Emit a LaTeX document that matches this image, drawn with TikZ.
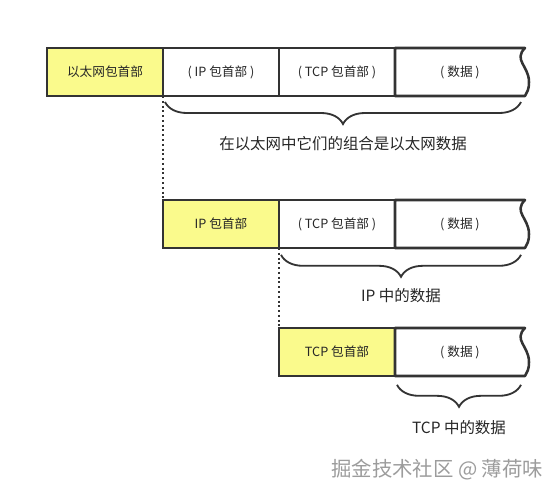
\documentclass[tikz,border=0pt]{standalone}
\usepackage{fontspec}
\newfontfamily\cjk{Noto Sans CJK SC}
\usetikzlibrary{positioning,calc,decorations.pathreplacing}
\definecolor{HeadYellow}{HTML}{FAFA8C}
\definecolor{LineDark}{HTML}{333333}
\definecolor{TextDark}{HTML}{262626}
\definecolor{MarkGrey}{HTML}{9C9C9C}

\begin{document}
\begin{tikzpicture}[every node/.style={font=\cjk,text=TextDark},
  cell/.style={draw=LineDark,line width=1.8pt,minimum width=2.9cm,minimum height=1.2cm,outer sep=0pt,inner sep=0pt,font=\cjk\fontsize{9}{11}\selectfont},
  hdr/.style={cell,fill=HeadYellow},datacell/.style={cell,draw=none,minimum width=3.25cm},
  brc/.style={decorate,decoration={brace,mirror,amplitude=0.55cm},draw=LineDark,line width=1.3pt},
  lbl/.style={font=\cjk\fontsize{11}{13}\selectfont}]
\useasboundingbox (0,0) rectangle (14,-12.575);
% row 1: ethernet frame
\node[hdr,anchor=north west] (eth1) at (1.175,-1.2) {以太网包首部};
\node[cell,right=0pt of eth1] (ip1) {( IP 包首部 )};\node[cell,right=0pt of ip1] (tcp1) {( TCP 包首部 )};
\node[datacell,right=0pt of tcp1] (d1) {( 数据 )};
% row 2: ip packet
\node[hdr,anchor=north west] (ip2) at ($(eth1.south east)+(0,-2.6)$) {IP 包首部};
\node[cell,right=0pt of ip2] (tcp2) {( TCP 包首部 )};\node[datacell,right=0pt of tcp2] (d2) {( 数据 )};
% row 3: tcp segment
\node[hdr,anchor=north west] (tcp3) at ($(ip2.south east)+(0,-2)$) {TCP 包首部};
\node[datacell,right=0pt of tcp3] (d3) {( 数据 )};
% open right edge of the data cells
\foreach \d in {d1,d2,d3}
  \draw[LineDark,line width=1.8pt,line join=round] (\d.south west)--(\d.north west)--(\d.north east) .. controls +(-0.3,-0.3) and +(0,0.4) .. ($(\d.east)+(0.1,-0.25)$) .. controls +(0,-0.2) and +(0.05,0.1) .. (\d.south east)--cycle;
% dotted guides
\draw[LineDark,dotted,line width=1.4pt] (eth1.south east)--(ip2.north west);\draw[LineDark,dotted,line width=1.4pt] (ip2.south east)--(tcp3.north west);
% braces and their labels
\draw[brc] ([shift={(0.05,-0.15)}]ip1.south west)--([shift={(-0.1,-0.15)}]d1.south east) node[lbl,midway,yshift=-1.05cm] (lbl1) {在以太网中它们的组合是以太网数据};
\draw[brc] ([shift={(0.05,-0.17)}]tcp2.south west)--([shift={(-0.1,-0.17)}]d2.south east) node[lbl,midway,yshift=-1.03cm] (lbl2) {IP 中的数据};
\draw[brc] ([shift={(0.05,-0.22)}]d3.south west)--([shift={(-0.1,-0.22)}]d3.south east) node[lbl,midway,yshift=-1.08cm] (lbl3) {TCP 中的数据};
\node[font=\cjk\fontsize{14.5}{16}\selectfont,text=MarkGrey] (mark) at (10.93,-11.75) {掘金技术社区 @ 薄荷味};
\end{tikzpicture}
\end{document}
